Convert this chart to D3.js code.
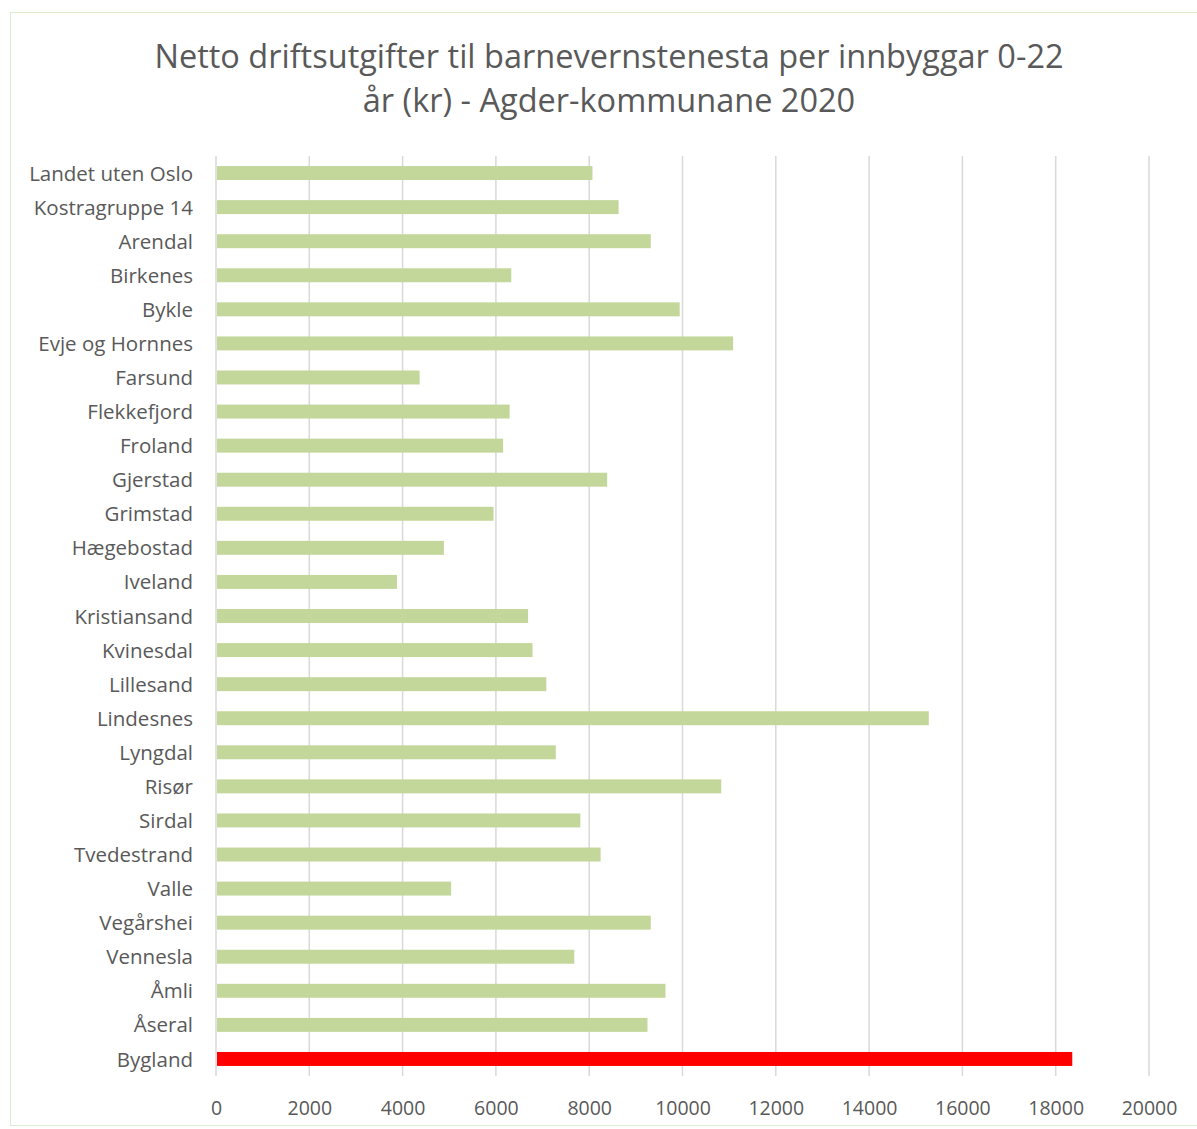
<!DOCTYPE html>
<html>
<head>
<meta charset="utf-8">
<script src="https://cdn.jsdelivr.net/npm/d3@7"></script>
<style>
  body { margin: 0; background: #fff; }
  #chart-container text { font-family: "Open Sans", sans-serif; }
</style>
</head>
<body>
<div id="chart-container"></div>
<script>
const categories = [
  "Landet uten Oslo", "Kostragruppe 14", "Arendal", "Birkenes", "Bykle",
  "Evje og Hornnes", "Farsund", "Flekkefjord", "Froland", "Gjerstad",
  "Grimstad", "Hægebostad", "Iveland", "Kristiansand", "Kvinesdal",
  "Lillesand", "Lindesnes", "Lyngdal", "Risør", "Sirdal", "Tvedestrand",
  "Valle", "Vegårshei", "Vennesla", "Åmli", "Åseral", "Bygland"
];
const values = [
  8070, 8630, 9320, 6330, 9940,
  11085, 4365, 6295, 6155, 8385,
  5950, 4885, 3880, 6690, 6785,
  7080, 15280, 7285, 10830, 7810, 8245,
  5040, 9320, 7680, 9635, 9250, 18355
];
const highlighted = ["Bygland"];
const xTicks = [0, 2000, 4000, 6000, 8000, 10000, 12000, 14000, 16000, 18000, 20000];
const titleLines = [
  "Netto driftsutgifter til barnevernstenesta per innbyggar 0-22",
  "år (kr) - Agder-kommunane 2020"
];

const width = 1197;
const height = 1129;
const margin = { top: 156, right: 48, bottom: 53, left: 216 };

function drawChart() {
  d3.select("#chart-container").select("svg").remove();

  const svg = d3
    .select("#chart-container")
    .append("svg")
    .attr("width", width)
    .attr("height", height);

  // chart area border
  svg
    .append("rect")
    .attr("x", 10.5)
    .attr("y", 12.5)
    .attr("width", width)
    .attr("height", height - 16)
    .attr("fill", "none")
    .attr("stroke", "#dbeccf")
    .attr("stroke-width", 1);

  // title
  svg
    .append("text")
    .attr("text-anchor", "middle")
    .style("font-size", "32.5px")
    .style("fill", "#595959")
    .selectAll("tspan")
    .data(titleLines)
    .enter()
    .append("tspan")
    .attr("x", 609)
    .attr("y", (d, i) => 68 + i * 44)
    .text((d) => d);

  const x = d3
    .scaleLinear()
    .domain([0, 20000])
    .range([margin.left, width - margin.right]);

  const y = d3
    .scaleBand()
    .domain(categories)
    .range([margin.top, height - margin.bottom])
    .paddingInner(0.59)
    .paddingOuter(0.295);

  // gridlines
  svg
    .append("g")
    .selectAll("line")
    .data(xTicks)
    .enter()
    .append("line")
    .attr("x1", (d) => x(d))
    .attr("x2", (d) => x(d))
    .attr("y1", margin.top)
    .attr("y2", height - margin.bottom)
    .style("stroke", "#d9d9d9")
    .style("stroke-width", 1.5);

  // bars
  svg
    .append("g")
    .selectAll("rect")
    .data(categories)
    .enter()
    .append("rect")
    .attr("x", x(0) + 1)
    .attr("y", (d) => y(d))
    .attr("height", y.bandwidth())
    .attr("width", (d, i) => x(values[i]) - x(0) - 1)
    .style("fill", (d) => (highlighted.includes(d) ? "#ff0000" : "#c4d79b"));

  // category labels
  const yAxis = svg
    .append("g")
    .attr("transform", `translate(${margin.left}, 1)`)
    .call(d3.axisLeft(y).tickSize(0).tickPadding(23));
  yAxis.select(".domain").remove();
  yAxis
    .selectAll("text")
    .style("font-size", "20.5px")
    .style("fill", "#595959");

  // value axis labels
  const xAxis = svg
    .append("g")
    .attr("transform", `translate(0, ${height - margin.bottom})`)
    .call(d3.axisBottom(x).tickValues(xTicks).tickFormat(d3.format("d")).tickSize(0).tickPadding(25));
  xAxis.select(".domain").remove();
  xAxis
    .selectAll("text")
    .style("font-size", "19.5px")
    .style("fill", "#595959");
}

drawChart();
</script>
</body>
</html>
